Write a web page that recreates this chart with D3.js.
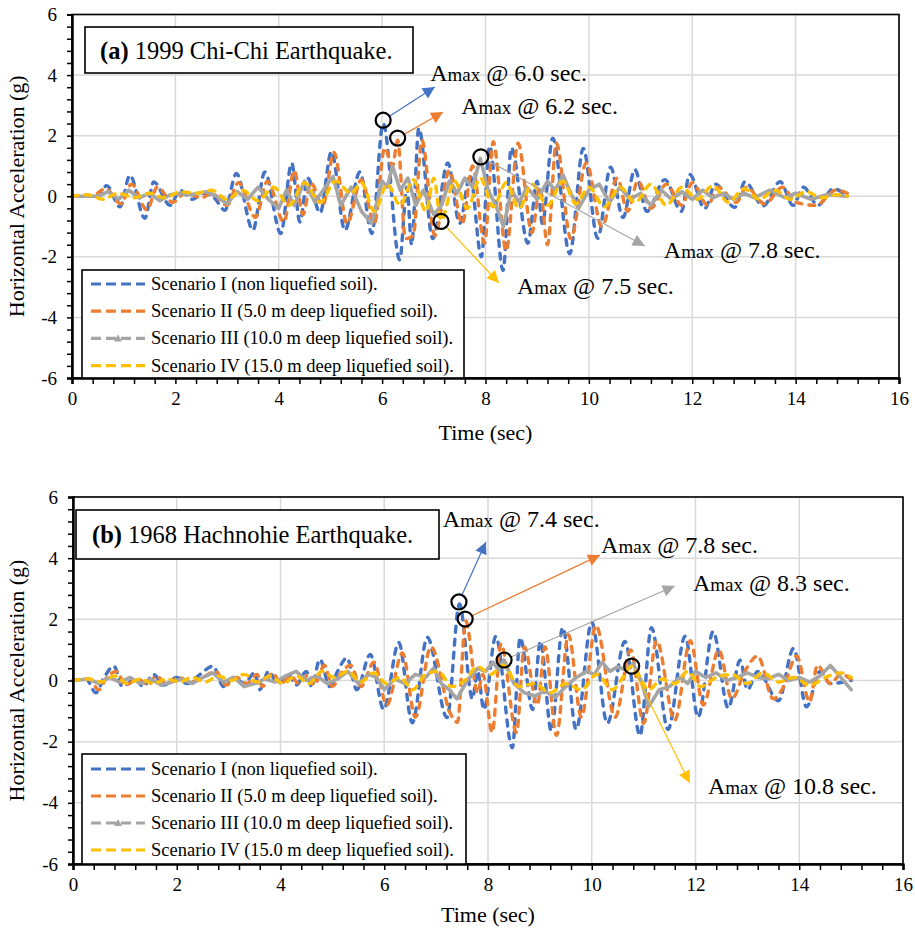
<!DOCTYPE html>
<html><head><meta charset="utf-8">
<script src="https://cdn.jsdelivr.net/npm/d3@7"></script>
<style>
body{margin:0;background:#fff}
svg{display:block}
svg text{font-family:"Liberation Serif","Times New Roman",serif !important;fill:#000}
</style>
</head><body><svg id="c" width="915" height="930"></svg>
<script>
// ---------- DATA ----------
const xTicks = [0,2,4,6,8,10,12,14,16];
const yTicks = [-6,-4,-2,0,2,4,6];
const seriesNames = [
  "Scenario I (non liquefied soil).",
  "Scenario II (5.0 m deep liquefied soil).",
  "Scenario III (10.0 m deep liquefied soil).",
  "Scenario IV (15.0 m deep liquefied soil)."
];
const titleA = ["(a)", " 1999 Chi-Chi Earthquake."];
const titleB = ["(b)", " 1968 Hachnohie Earthquake."];

// Panel (a) 1999 Chi-Chi: [time (s), acceleration (g)]
const chichiI = [[0,0],[0.3,0.02],[0.5,-0.03],[0.67,0.35],[0.93,-0.35],[1.12,0.69],[1.41,-0.73],[1.58,0.47],[1.9,-0.3],[2.09,0.2],[2.33,-0.1],[2.55,0.1],[2.75,-0.05],[2.96,-0.46],[3.18,0.75],[3.5,-1.12],[3.73,0.8],[4.04,-1.23],[4.25,1.09],[4.41,-0.85],[4.56,0.6],[4.8,-0.55],[5.02,1.47],[5.28,-1.12],[5.57,0.8],[5.8,-1.23],[6.02,2.4],[6.34,-2.1],[6.48,0.3],[6.57,-1.6],[6.71,2.25],[6.98,-1.4],[7.27,1.1],[7.5,-0.9],[7.7,0.7],[7.92,-2.0],[8.08,1.65],[8.34,-2.45],[8.5,1.6],[8.82,-1.55],[9.0,0.5],[9.1,-0.9],[9.3,1.92],[9.63,-1.9],[9.89,1.58],[10.17,-1.39],[10.42,0.96],[10.66,-0.7],[10.89,0.88],[11.12,-0.5],[11.47,0.55],[11.79,-0.5],[11.95,0.72],[12.24,-0.41],[12.45,0.4],[12.82,-0.37],[13.02,0.48],[13.37,-0.32],[13.7,0.48],[13.95,-0.3],[14.15,0.3],[14.43,-0.3],[14.73,0.25],[15,0]];
const chichiII = [[0,0],[0.4,0.02],[0.65,0.25],[0.95,-0.25],[1.15,0.4],[1.45,-0.45],[1.65,0.3],[1.95,-0.2],[2.2,0.12],[2.5,-0.05],[2.7,0.1],[3.0,-0.3],[3.22,0.45],[3.55,-0.7],[3.78,0.5],[4.1,-0.85],[4.3,0.85],[4.47,-0.6],[4.62,0.45],[4.85,-0.3],[5.07,1.45],[5.32,-0.9],[5.6,0.55],[5.85,-0.9],[6.05,1.6],[6.2,1.0],[6.3,1.85],[6.45,-1.4],[6.6,-1.3],[6.77,1.85],[7.02,-1.3],[7.3,0.85],[7.55,-0.9],[7.75,1.0],[7.98,-1.55],[8.15,1.8],[8.4,-1.8],[8.63,1.75],[8.9,-1.2],[9.05,0.3],[9.2,-1.6],[9.37,1.75],[9.65,-1.4],[9.95,1.1],[10.25,-1.0],[10.55,0.6],[10.75,-0.5],[10.95,0.5],[11.2,-0.4],[11.5,0.4],[11.8,-0.3],[12.0,0.45],[12.3,-0.3],[12.5,0.3],[12.85,-0.2],[13.05,0.3],[13.4,-0.25],[13.75,0.3],[14.0,-0.2],[14.4,-0.3],[14.78,0.2],[15,0.1]];
const chichiIII = [[0,0],[0.5,0],[0.7,0.15],[0.9,-0.1],[1.1,0.2],[1.3,-0.05],[1.5,0.1],[1.7,-0.15],[1.9,0.05],[2.1,0.1],[2.3,0.05],[2.6,0.15],[2.8,0.0],[3.0,-0.25],[3.2,0.15],[3.4,-0.1],[3.6,0.3],[3.8,-0.1],[4.0,-0.4],[4.15,0.2],[4.3,-0.3],[4.5,0.5],[4.7,-0.2],[4.9,0.3],[5.05,0.65],[5.2,-0.3],[5.4,0.3],[5.6,-0.5],[5.8,-0.9],[6.0,0.5],[6.1,0.3],[6.2,1.0],[6.35,0.2],[6.5,0.6],[6.65,-0.3],[6.8,0.2],[7.0,-0.6],[7.15,-0.3],[7.3,0.5],[7.45,0.1],[7.6,0.6],[7.75,0.3],[7.9,1.25],[8.05,0.2],[8.2,-0.3],[8.35,-1.0],[8.5,0.2],[8.65,-0.2],[8.8,0.3],[9.0,-0.1],[9.2,0.5],[9.35,0.2],[9.5,0.7],[9.65,0.1],[9.8,-0.4],[10.0,0.2],[10.2,0.4],[10.4,-0.2],[10.6,0.3],[10.8,-0.1],[11.0,0.1],[11.2,-0.3],[11.4,0.2],[11.6,-0.1],[11.8,0.15],[12.0,-0.1],[12.2,0.2],[12.4,-0.05],[12.6,0.1],[12.8,-0.1],[13.0,0.1],[13.2,-0.05],[13.5,0.2],[13.8,-0.05],[14.0,0.1],[14.3,-0.1],[14.6,0.05],[15,0]];
const chichiIV = [[0,0],[0.3,0.05],[0.6,-0.1],[0.9,0.1],[1.2,-0.05],[1.5,0.1],[1.8,-0.05],[2.1,0.15],[2.4,0.1],[2.7,0.2],[3.0,-0.1],[3.3,0.2],[3.6,-0.15],[3.9,0.3],[4.2,-0.3],[4.5,0.45],[4.8,-0.2],[5.1,0.5],[5.4,0.1],[5.6,0.45],[5.85,-0.5],[6.1,0.4],[6.35,-0.3],[6.6,0.55],[6.85,-0.5],[7.0,0.6],[7.14,-0.8],[7.4,0.5],[7.65,-0.4],[7.9,0.6],[8.15,-0.35],[8.4,0.45],[8.65,-0.4],[8.9,0.4],[9.2,-0.3],[9.5,0.5],[9.75,-0.25],[10.0,0.3],[10.3,-0.35],[10.6,0.3],[10.9,-0.2],[11.2,0.4],[11.5,-0.3],[11.8,0.3],[12.1,-0.1],[12.4,0.35],[12.7,-0.2],[13.0,0.25],[13.3,-0.1],[13.6,0.2],[13.9,-0.1],[14.2,0.15],[14.5,-0.05],[14.8,0.05],[15,0]];

// Panel (b) 1968 Hachinohe
const hachI = [[0,0],[0.25,0.05],[0.44,-0.4],[0.6,0.1],[0.79,0.47],[0.95,-0.2],[1.2,0.05],[1.35,-0.2],[1.55,0.2],[1.75,-0.15],[2.0,0.1],[2.2,-0.1],[2.45,0.2],[2.7,0.47],[2.9,-0.2],[3.1,0.1],[3.3,-0.1],[3.5,0.25],[3.6,-0.3],[3.77,0.3],[3.95,-0.1],[4.15,0.2],[4.3,-0.15],[4.5,0.3],[4.6,-0.2],[4.76,0.69],[4.95,-0.2],[5.1,0.3],[5.28,0.74],[5.47,-0.3],[5.73,0.85],[5.99,-0.95],[6.28,1.24],[6.54,-1.38],[6.83,1.41],[7.21,-1.21],[7.45,2.5],[7.7,-0.6],[7.8,0.3],[7.92,-0.95],[8.15,1.44],[8.47,-2.2],[8.62,1.4],[8.86,-0.95],[9.01,1.28],[9.22,-1.65],[9.44,1.73],[9.7,-1.6],[10.0,1.9],[10.3,-1.4],[10.64,1.28],[10.93,-1.8],[11.15,1.73],[11.47,-1.6],[11.8,1.45],[12.05,-1.2],[12.34,1.6],[12.63,-0.9],[12.86,0.66],[13.0,-0.3],[13.2,0.3],[13.6,-0.66],[13.89,1.05],[14.14,-0.86],[14.4,0.3],[14.6,-0.1],[15,0]];
const hachII = [[0,0],[0.3,0.05],[0.5,-0.3],[0.65,0.1],[0.85,0.3],[1.0,-0.15],[1.25,0.05],[1.45,-0.15],[1.6,0.15],[1.8,-0.1],[2.05,0.1],[2.25,-0.05],[2.5,0.1],[2.75,0.3],[2.95,-0.15],[3.15,0.1],[3.35,-0.1],[3.55,0.2],[3.65,-0.2],[3.85,0.25],[4.0,-0.1],[4.2,0.15],[4.35,-0.1],[4.55,0.2],[4.65,-0.15],[4.85,0.5],[5.0,-0.2],[5.15,0.2],[5.35,0.5],[5.55,-0.2],[5.8,0.6],[6.05,-0.8],[6.35,0.9],[6.6,-1.2],[6.9,1.1],[7.28,-1.1],[7.41,-1.37],[7.57,1.95],[7.8,-0.4],[7.9,0.2],[8.08,-1.7],[8.25,1.2],[8.55,-1.7],[8.7,1.1],[8.95,-0.8],[9.1,1.1],[9.32,-1.8],[9.55,1.5],[9.8,-1.2],[10.08,1.8],[10.45,-1.2],[10.75,1.0],[11.0,-1.4],[11.25,1.3],[11.6,-1.3],[11.9,1.3],[12.15,-0.8],[12.45,1.0],[12.7,-0.6],[12.95,0.3],[13.2,0.8],[13.5,-0.6],[13.7,-0.2],[13.95,0.8],[14.2,-0.7],[14.35,0.5],[14.6,-0.1],[14.8,0.2],[15,0.05]];
const hachIII = [[0,0],[0.3,0.05],[0.5,-0.1],[0.7,0.1],[0.9,-0.05],[1.1,0.1],[1.3,-0.1],[1.5,0.05],[1.7,-0.15],[1.9,-0.05],[2.1,0.05],[2.3,-0.1],[2.5,0.1],[2.7,0.25],[2.9,-0.05],[3.1,0.1],[3.3,-0.2],[3.5,-0.1],[3.7,0.05],[3.9,-0.05],[4.1,0.15],[4.3,0.3],[4.5,0.0],[4.7,0.15],[4.9,-0.1],[5.1,0.05],[5.3,0.3],[5.5,-0.1],[5.7,0.2],[5.85,0.1],[6.0,-0.3],[6.2,0.05],[6.4,-0.1],[6.6,0.2],[6.8,0.1],[6.95,0.4],[7.1,-0.1],[7.25,-0.3],[7.4,-0.6],[7.6,0.0],[7.8,0.4],[7.95,0.3],[8.1,0.6],[8.2,0.35],[8.31,0.67],[8.5,-0.1],[8.7,-0.4],[8.9,-0.5],[9.1,-0.35],[9.3,-0.55],[9.5,-0.2],[9.7,0.1],[9.9,0.3],[10.05,0.2],[10.2,0.6],[10.35,0.3],[10.5,0.45],[10.65,0.35],[10.8,0.55],[10.95,0.0],[11.1,-0.85],[11.3,-0.3],[11.5,-0.2],[11.7,0.1],[11.85,-0.1],[12.0,0.3],[12.2,0.1],[12.4,0.25],[12.6,0.0],[12.8,0.1],[13.0,0.25],[13.2,0.1],[13.4,0.05],[13.6,0.2],[13.8,0.0],[14.0,0.1],[14.2,-0.05],[14.4,0.15],[14.6,0.49],[14.8,0.1],[15,-0.3]];
const hachIV = [[0,0],[0.3,0.05],[0.55,-0.05],[0.8,0.15],[1.05,-0.1],[1.3,0.05],[1.55,-0.1],[1.8,0.05],[2.05,-0.05],[2.3,0.1],[2.55,-0.05],[2.8,0.15],[3.05,0.0],[3.3,0.2],[3.55,-0.05],[3.8,0.15],[4.05,-0.1],[4.3,0.15],[4.55,-0.1],[4.8,0.3],[5.05,0.1],[5.3,0.3],[5.55,-0.05],[5.8,0.25],[6.05,-0.1],[6.3,0.1],[6.55,-0.3],[6.8,0.2],[7.05,0.3],[7.3,-0.2],[7.55,0.0],[7.8,0.45],[8.05,0.2],[8.3,0.5],[8.6,-0.2],[8.9,-0.1],[9.2,-0.4],[9.5,-0.1],[9.8,-0.3],[10.1,0.2],[10.4,-0.3],[10.6,0.1],[10.77,0.47],[11.1,-0.3],[11.35,0.05],[11.6,-0.1],[11.85,0.3],[12.1,-0.2],[12.4,0.1],[12.7,0.2],[13.0,-0.1],[13.3,0.25],[13.6,-0.05],[13.9,0.1],[14.2,-0.15],[14.5,0.1],[14.8,0.25],[15,0.1]];

// Amax markers: [time, accel] of the circled peaks, label text
const amaxA = [[6.02,2.51],[6.30,1.92],[7.91,1.30],[7.14,-0.83]];
const amaxLabelsA = ["6.0","6.2","7.8","7.5"];
const amaxB = [[7.44,2.57],[7.56,2.01],[8.31,0.67],[10.77,0.47]];
const amaxLabelsB = ["7.4","7.8","8.3","10.8"];

// ---------- LAYOUT / STYLE ----------
const colors = ["#4472C4","#ED7D31","#A5A5A5","#FFC000"];
const FONT = "'Liberation Serif','Times New Roman',serif";
// annotation arrow tips and text anchor in data units (t, g)
const annotLayoutA = [
  {tip:[7.02,3.61], txt:[6.93,3.80]},
  {tip:[7.18,2.78], txt:[7.53,2.72]},
  {tip:[11.08,-1.64], txt:[11.45,-2.04]},
  {tip:[8.26,-2.86], txt:[8.61,-3.23]}
];
const annotLayoutB = [
  {tip:[7.96,4.53], txt:[7.13,5.02]},
  {tip:[10.16,4.10], txt:[10.18,4.16]},
  {tip:[11.60,3.09], txt:[11.95,2.93]},
  {tip:[11.89,-3.35], txt:[12.24,-3.71]}
];

const svg = d3.select("#c").style("font-family",FONT);
const defs = svg.append("defs");
colors.forEach((c,i)=>{
  defs.append("marker").attr("id","arr"+i)
    .attr("viewBox","0 0 10 10").attr("refX",10).attr("refY",5)
    .attr("markerWidth",14).attr("markerHeight",12)
    .attr("markerUnits","userSpaceOnUse").attr("orient","auto")
    .append("path").attr("d","M0,0L10,5L0,10Z").attr("fill",c);
});

function drawPanel(p){
  const x = d3.scaleLinear().domain([0,16]).range([p.x0,p.x1]);
  const y = d3.scaleLinear().domain([-6,6]).range([p.yb,p.yt]);
  const g = svg.append("g");

  // gridlines
  g.selectAll(".gx").data(xTicks.slice(1)).join("line")
    .attr("x1",d=>x(d)).attr("x2",d=>x(d)).attr("y1",p.yt).attr("y2",p.yb)
    .attr("stroke","#d9d9d9").attr("stroke-width",1.5);
  g.selectAll(".gy").data(yTicks.slice(1)).join("line")
    .attr("x1",p.x0).attr("x2",p.x1).attr("y1",d=>y(d)).attr("y2",d=>y(d))
    .attr("stroke","#d9d9d9").attr("stroke-width",1.5);

  // series
  const smooth = d3.line().x(d=>x(d[0])).y(d=>y(d[1])).curve(d3.curveMonotoneX);
  const jag = d3.line().x(d=>x(d[0])).y(d=>y(d[1])).curve(d3.curveLinear);
  p.series.forEach((s,i)=>{
    const path = g.append("path").datum(s)
      .attr("d", i===2 ? jag : smooth)
      .attr("fill","none").attr("stroke",colors[i])
      .attr("stroke-width", i===2 ? 3.6 : 3.4)
      .attr("stroke-linejoin","round").attr("stroke-linecap","round");
    if(i!==2) path.attr("stroke-dasharray","6,7");
  });

  // border
  g.append("rect").attr("x",p.x0).attr("y",p.yt).attr("width",p.x1-p.x0).attr("height",p.yb-p.yt)
    .attr("fill","none").attr("stroke","#000").attr("stroke-width",1.6);

  // axes
  const fs = 19;
  g.append("g").attr("transform",`translate(${p.x0},0)`)
    .call(d3.axisLeft(y).tickValues(yTicks).tickSize(5).tickPadding(10).tickFormat(d=>String(d)));
  const yMinor = d3.range(-6,6.001,0.4).filter(v=>Math.abs(v/2-Math.round(v/2))>0.01);
  g.append("g").attr("transform",`translate(${p.x0},0)`)
    .call(d3.axisLeft(y).tickValues(yMinor).tickSize(5).tickFormat(""));
  g.append("g").attr("transform",`translate(0,${p.yb})`)
    .call(d3.axisBottom(x).tickValues(xTicks).tickSize(6).tickPadding(8).tickFormat(d=>String(d)));
  const xMinor = d3.range(0,16.001,0.4).filter(v=>Math.abs(v/2-Math.round(v/2))>0.01);
  g.append("g").attr("transform",`translate(0,${p.yb})`)
    .call(d3.axisBottom(x).tickValues(xMinor).tickSize(6).tickFormat(""));
  g.selectAll("g[font-family]").attr("font-family",FONT);
  g.selectAll(".domain").attr("stroke","#000").attr("stroke-width",2);
  g.selectAll(".tick line").attr("stroke","#000").attr("stroke-width",1.5);
  g.selectAll(".tick text").attr("font-size",fs).style("font-family",FONT).attr("fill","#000");

  // axis titles
  g.append("text").attr("transform",`translate(${p.ylabX},${(p.yt+p.yb)/2}) rotate(-90)`)
    .attr("text-anchor","middle").attr("font-size",22).style("font-family",FONT).text("Horizontal Acceleration (g)");
  g.append("text").attr("x",(p.x0+p.x1)/2).attr("y",p.xlabY)
    .attr("text-anchor","middle").attr("font-size",22).style("font-family",FONT).text("Time (sec)");

  // title box
  g.append("rect").attr("x",p.tb[0]).attr("y",p.tb[1]).attr("width",p.tb[2]).attr("height",p.tb[3])
    .attr("fill","#fff").attr("stroke","#000").attr("stroke-width",1.6);
  const tt = g.append("text").attr("x",p.tb[4]).attr("y",p.tb[5]).attr("font-size",24.5).style("font-family",FONT);
  tt.append("tspan").attr("font-weight","bold").text(p.title[0]);
  tt.append("tspan").text(p.title[1]);

  // legend
  const L = p.leg;
  g.append("rect").attr("x",L[0]).attr("y",L[1]).attr("width",L[2]).attr("height",p.yb-L[1])
    .attr("fill","#fff").attr("stroke","#000").attr("stroke-width",1.6);
  seriesNames.forEach((n,i)=>{
    const yy = L[1]+L[3]+i*L[4];
    g.append("line").attr("x1",L[0]+9).attr("x2",L[0]+63).attr("y1",yy).attr("y2",yy)
      .attr("stroke",colors[i]).attr("stroke-width",3.2).attr("stroke-dasharray","10,5");
    if(i===2){
      const cx=L[0]+36;
      g.append("path").attr("d",`M${cx-4},${yy+3}L${cx},${yy-4}L${cx+4},${yy+3}Z`).attr("fill",colors[i]);
    }
    g.append("text").attr("x",L[0]+69).attr("y",yy+6).attr("font-size",18.5).style("font-family",FONT).text(n);
  });

  // Amax annotations
  p.amax.forEach((pt,i)=>{
    const cx=x(pt[0]), cy=y(pt[1]);
    const lay=p.annot[i];
    const tx=x(lay.tip[0]), ty=y(lay.tip[1]);
    const ang=Math.atan2(ty-cy,tx-cx);
    const r=7.5;
    g.append("line").attr("x1",cx+r*Math.cos(ang)).attr("y1",cy+r*Math.sin(ang))
      .attr("x2",tx).attr("y2",ty).attr("stroke",colors[i]).attr("stroke-width",1.2)
      .attr("marker-end",`url(#arr${i})`);
    g.append("circle").attr("cx",cx).attr("cy",cy).attr("r",r)
      .attr("fill","none").attr("stroke","#000").attr("stroke-width",2.2);
    const t = g.append("text").attr("x",x(lay.txt[0])).attr("y",y(lay.txt[1])).attr("font-size",24).style("font-family",FONT);
    t.append("tspan").text("A");
    t.append("tspan").attr("font-size",19).text("max");
    t.append("tspan").text(` @ ${p.labels[i]} sec.`);
  });
}

drawPanel({x0:72,x1:899,yt:14.5,yb:378,ylabX:24,xlabY:440,
  series:[chichiI,chichiII,chichiIII,chichiIV],
  tb:[85,27,328,46,100,59],title:titleA,
  leg:[82,270,382,14,27.2],
  amax:amaxA,labels:amaxLabelsA,annot:annotLayoutA});
drawPanel({x0:73,x1:903,yt:497,yb:864,ylabX:24,xlabY:922,
  series:[hachI,hachII,hachIII,hachIV],
  tb:[76,510,363,49,92,543],title:titleB,
  leg:[82,754,384,15,27],
  amax:amaxB,labels:amaxLabelsB,annot:annotLayoutB});
</script></body></html>
